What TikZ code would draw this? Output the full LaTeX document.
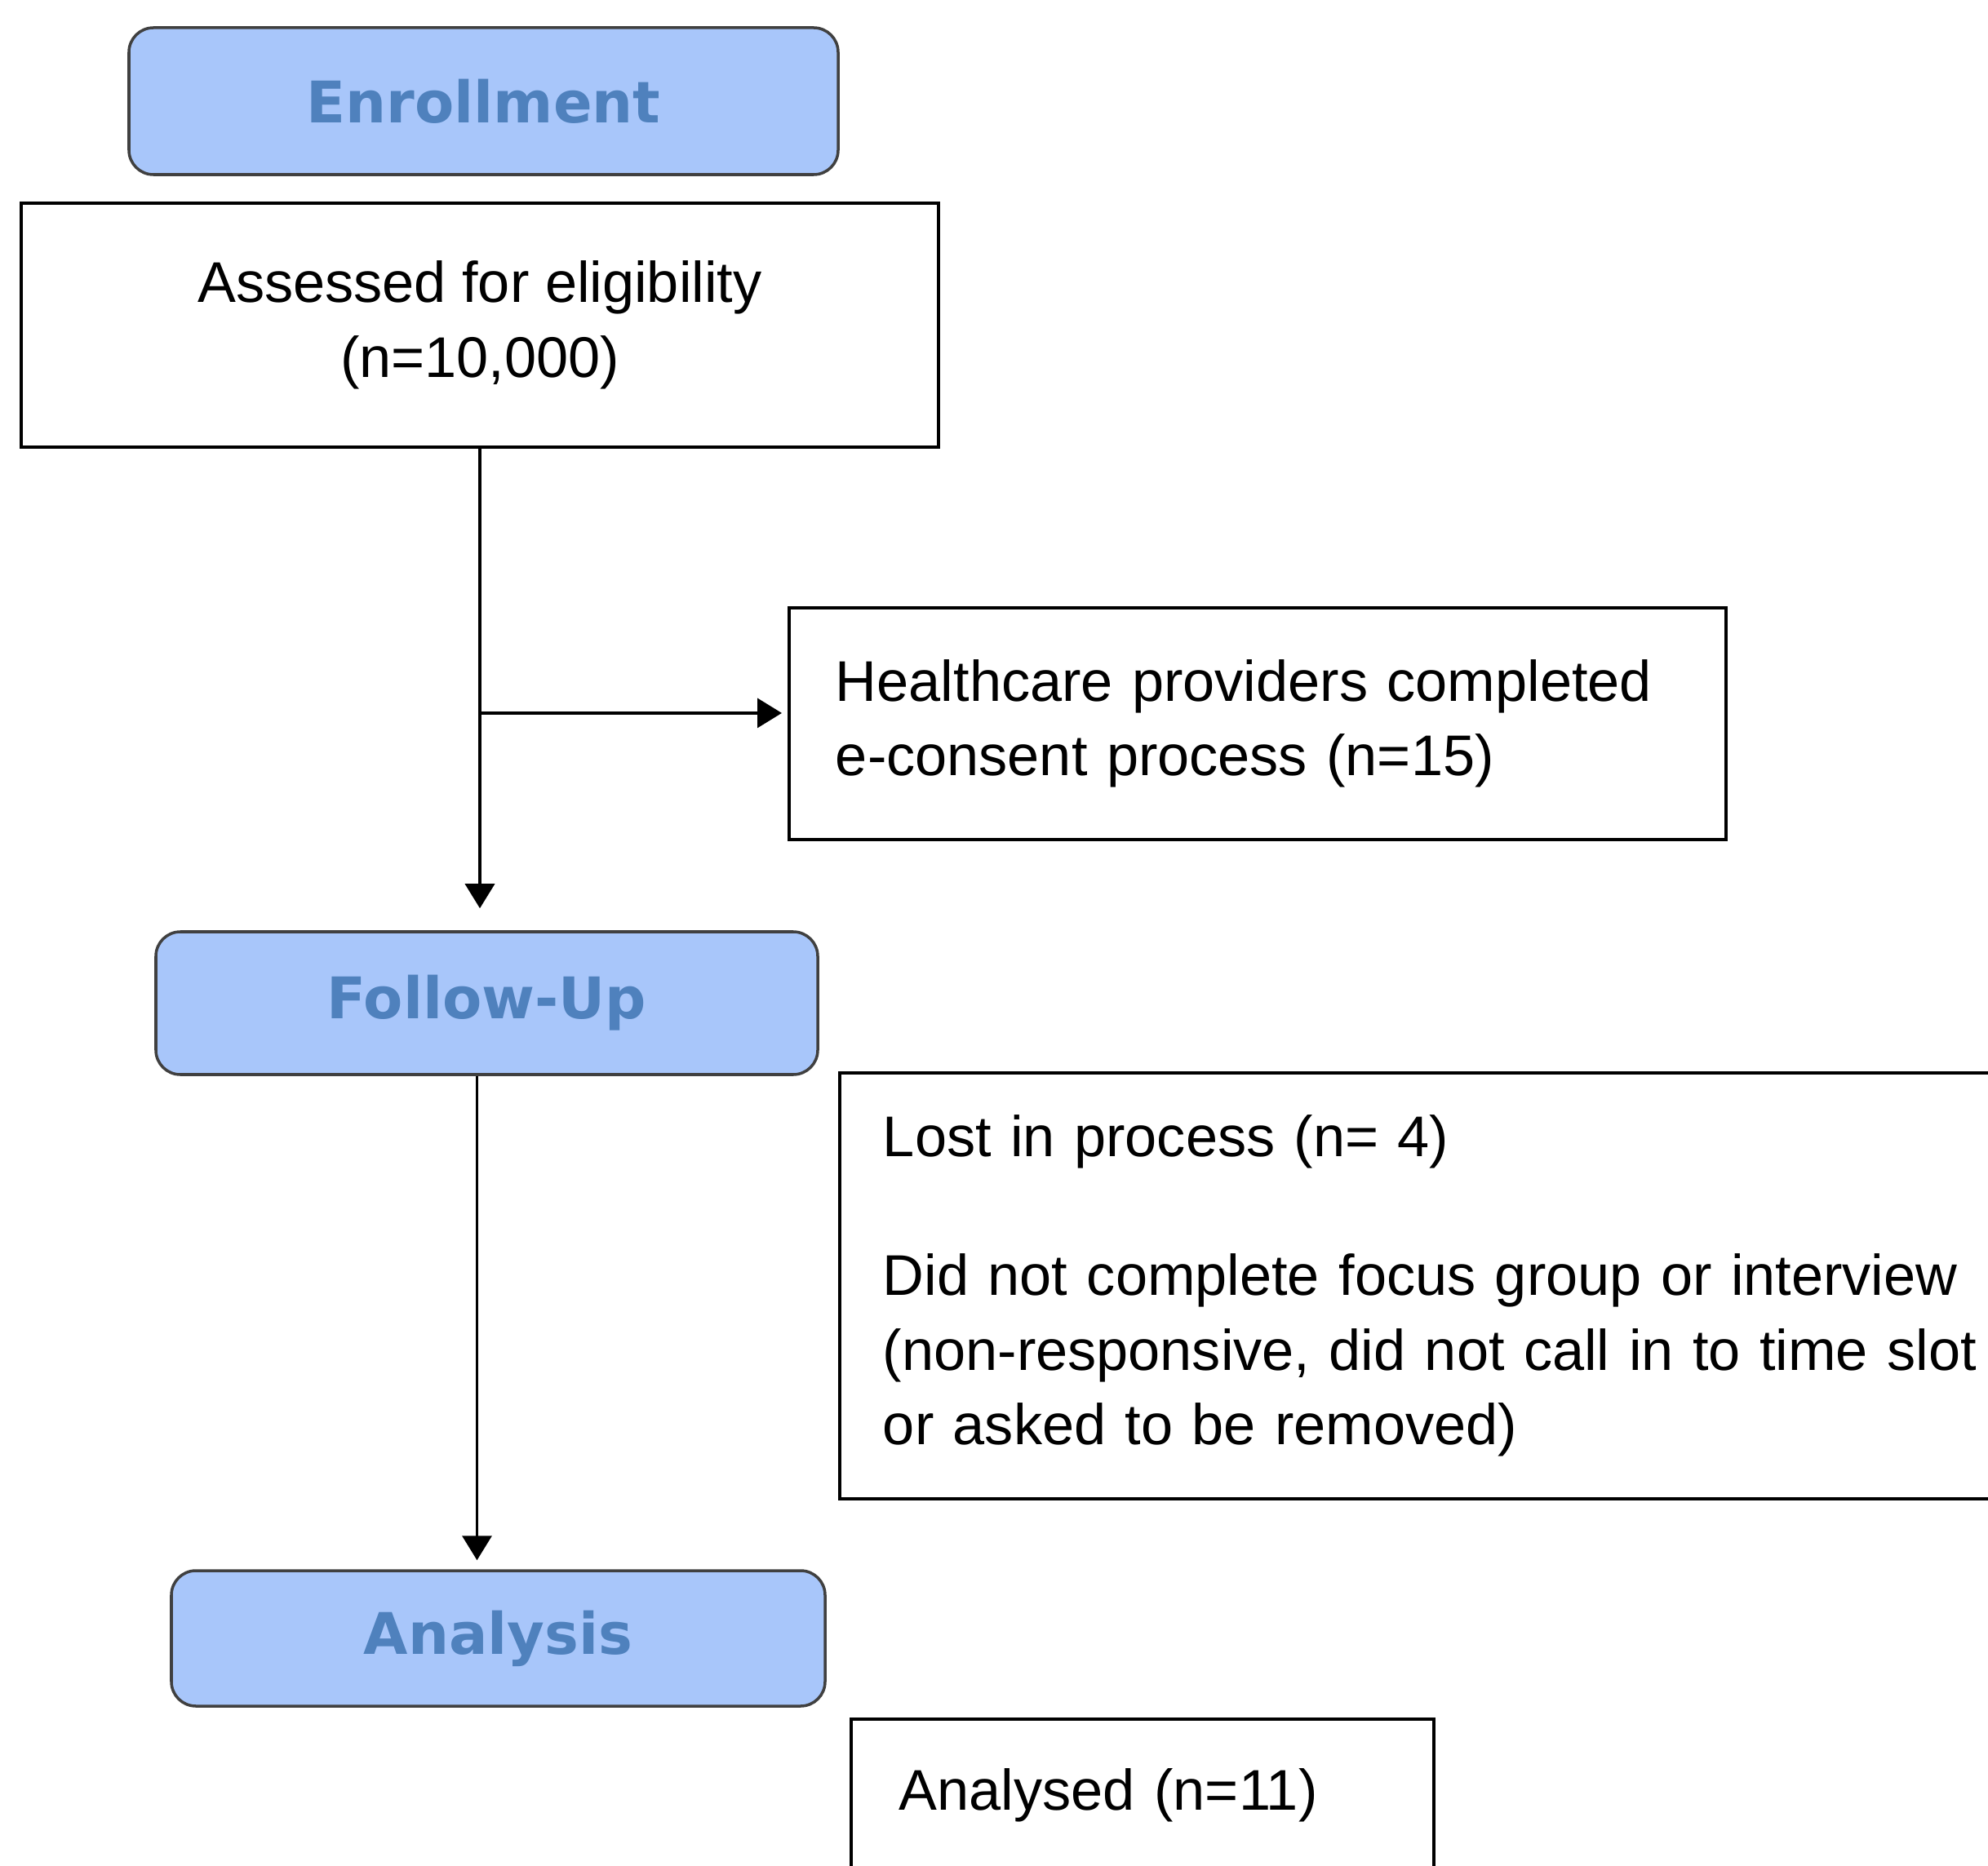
\documentclass[tikz,border=0pt]{standalone}
\usepackage{fontspec}
\setmainfont{Liberation Sans}
\newfontfamily\headfont{DejaVu Sans}
\usetikzlibrary{positioning, arrows.meta, calc}
\definecolor{stagefill}{HTML}{A8C6FA}
\definecolor{stagetext}{HTML}{4F81BD}

\begin{document}
\begin{tikzpicture}[
    stage/.style={draw=black!75, fill=stagefill, rounded corners=0.3cm, line width=1pt,
        text=stagetext, font=\headfont\bfseries\fontsize{20}{24}\selectfont},
    infobox/.style={draw, line width=1.1pt, align=left,
        font=\fontsize{20}{26}\selectfont},
    arr/.style={draw, line width=1pt, -{Triangle[width=0.36cm, length=0.3cm]}}
]
    \useasboundingbox (0,0) rectangle (24.36,-22.87);

    %Stages
    \node[stage, minimum width=8.69cm, minimum height=1.80cm] (enroll) at (5.925,-1.24) {Enrollment};
    \node[stage, minimum width=8.11cm, minimum height=1.75cm] (follow) at (5.965,-12.295) {Follow-Up};
    \node[stage, minimum width=8.01cm, minimum height=1.66cm] (analysis) at (6.105,-20.08) {Analysis};

    %Boxes
    \node[infobox, align=center, minimum width=11.24cm, minimum height=2.99cm] (assess) at (5.88,-3.985) {Assessed for eligibility\\(n=10,000)};
    \node[infobox, anchor=north west, text width=10.34cm, inner xsep=0.57cm, minimum height=2.84cm] (consent) at (9.65,-7.43) {Healthcare providers completed\\e-consent process (n=15)};
    \node[infobox, anchor=north west, text width=13.6cm, inner xsep=0.53cm, minimum height=5.22cm] (lost) at (10.27,-13.13) {Lost in process (n= 4)\\[0.79cm]Did not complete focus group or interview\\(non-responsive, did not call in to time slot\\or asked to be removed)};
    \node[infobox, anchor=north west, text width=5.96cm, inner xsep=0.59cm, minimum height=1.86cm] (analysed) at (10.41,-21.05) {Analysed (n=11)};

    %Arrows
    \coordinate (branch) at ([yshift=0.13cm]consent.west);
    \draw[arr, shorten >=0.27cm] (assess.south) -- (assess.south |- follow.north);
    \draw[arr, shorten >=0.07cm] (assess.south |- branch) -- (branch);
    \draw[arr, shorten >=0.11cm] ([xshift=-1.2mm]follow.south) -- ([xshift=-1.2mm]follow.south |- analysis.north);
\end{tikzpicture}
\end{document}
